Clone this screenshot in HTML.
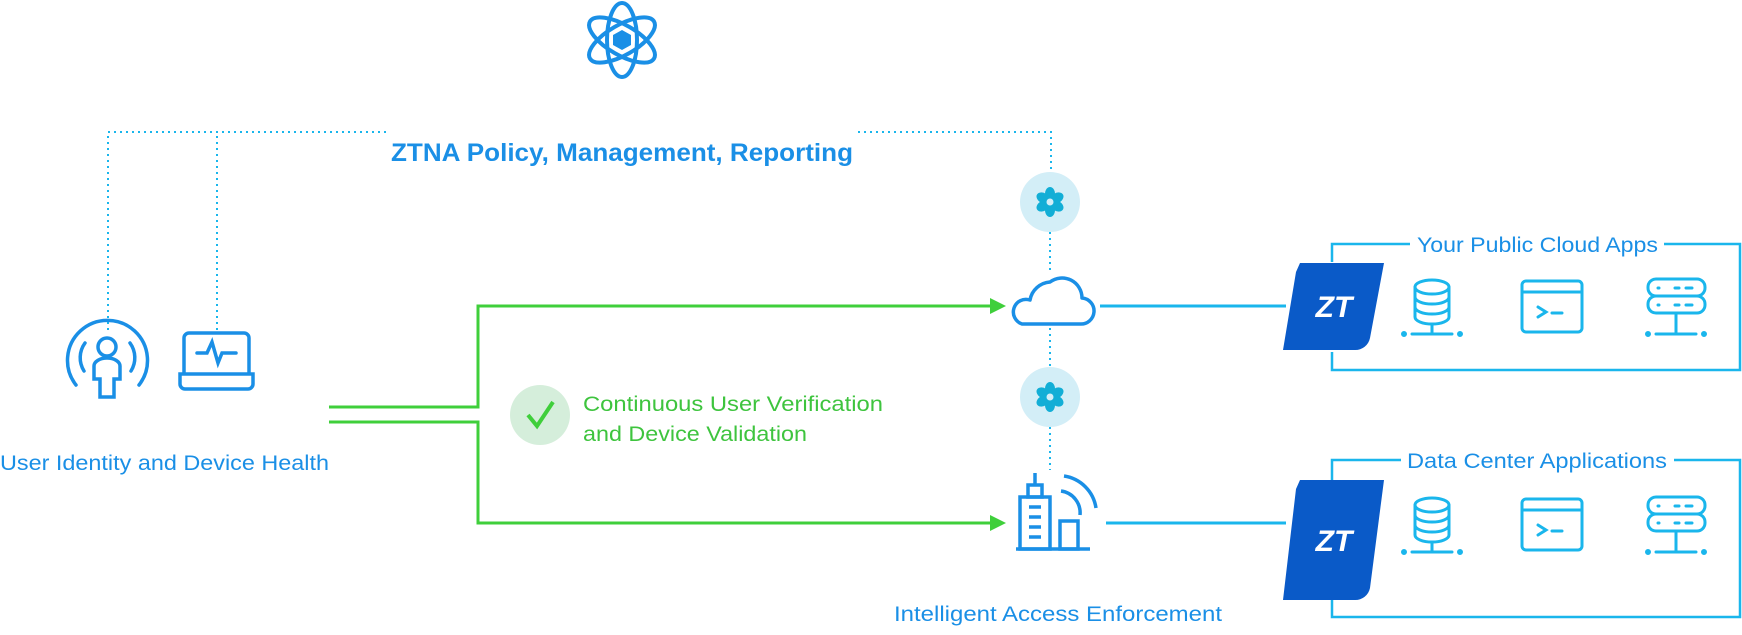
<!DOCTYPE html>
<html><head><meta charset="utf-8"><style>
html,body{margin:0;padding:0;background:#fff;}
body{width:1742px;height:630px;overflow:hidden;position:relative;font-family:"Liberation Sans",sans-serif;}
</style></head><body>
<svg width="1742" height="630" viewBox="0 0 1742 630" xmlns="http://www.w3.org/2000/svg">
<defs>
<g id="gear" fill="#12aed6">
<ellipse cx="0" cy="-8" rx="5" ry="7"/><ellipse cx="0" cy="-8" rx="5" ry="7" transform="rotate(60)"/><ellipse cx="0" cy="-8" rx="5" ry="7" transform="rotate(120)"/>
<ellipse cx="0" cy="-8" rx="5" ry="7" transform="rotate(180)"/><ellipse cx="0" cy="-8" rx="5" ry="7" transform="rotate(240)"/><ellipse cx="0" cy="-8" rx="5" ry="7" transform="rotate(300)"/>
<circle r="8"/><circle r="3.5" fill="#d3eef7"/>
</g>
</defs>
<g fill="none" stroke="#1ab6ec" stroke-width="2" stroke-dasharray="2 4">
<path d="M108 330 V132 H388"/><path d="M217 330 V132"/><path d="M858 132 H1051 V172"/>
<path d="M1050 232 V272"/><path d="M1050 328 V367"/><path d="M1050 427 V470"/>
</g>
<!-- atom -->
<g fill="none" stroke="#1a8fe6" stroke-width="4">
<ellipse cx="622" cy="40" rx="15" ry="37"/>
<ellipse cx="622" cy="40" rx="15" ry="37" transform="rotate(60 622 40)"/>
<ellipse cx="622" cy="40" rx="15" ry="37" transform="rotate(-60 622 40)"/>
</g>
<polygon points="622,30 631,35 631,45 622,50 613,45 613,35" fill="#1a8fe6"/>
<text x="391" y="161" font-size="25" font-weight="bold" fill="#1a8fe6" textLength="462" lengthAdjust="spacingAndGlyphs">ZTNA Policy, Management, Reporting</text>
<!-- gears -->
<circle cx="1050" cy="202" r="30" fill="#d3eef7"/><circle cx="1050" cy="397" r="30" fill="#d3eef7"/>
<use href="#gear" x="1050" y="202"/><use href="#gear" x="1050" y="397"/>
<!-- cloud -->
<path d="M1022 324 H1080 A13 13 0 0 0 1082 298 A20 20 0 0 0 1050 282 A22 22 0 0 0 1030 300 A12 12 0 0 0 1022 324 Z" fill="none" stroke="#1a8fe6" stroke-width="3.5" stroke-linejoin="round"/>
<!-- building -->
<g fill="none" stroke="#1a8fe6" stroke-width="3.5">
<rect x="1020" y="497" width="30" height="52"/><rect x="1028" y="485" width="14" height="12"/><path d="M1035 473 V485"/>
<rect x="1060" y="521" width="18" height="28"/><path d="M1016 549 H1090"/>
<path d="M1029 507 H1041 M1029 517 H1041 M1029 527 H1041 M1029 537 H1041"/>
<path d="M1061 491 A22 22 0 0 1 1080 515"/><path d="M1064 476 A38 38 0 0 1 1096 508"/>
</g>
<!-- green connectors -->
<g fill="none" stroke="#3fcf3b" stroke-width="3">
<path d="M329 407 H478 V306 H992"/><path d="M329 422 H478 V523 H992"/>
</g>
<polygon points="990,298 1006,306 990,314" fill="#3fcf3b"/>
<polygon points="990,515 1006,523 990,531" fill="#3fcf3b"/>
<circle cx="540" cy="415" r="30" fill="#d5eedb"/>
<path d="M528 415 L537 426 L553 402" fill="none" stroke="#3fcf3b" stroke-width="4"/>
<g font-size="21" fill="#3ec43e"><text x="583" y="411" textLength="300" lengthAdjust="spacingAndGlyphs">Continuous User Verification</text><text x="583" y="441" textLength="224" lengthAdjust="spacingAndGlyphs">and Device Validation</text></g>
<!-- left icons -->
<g fill="none" stroke="#1a8fe6" stroke-width="3.5" stroke-linecap="round">
<circle cx="107" cy="347" r="9"/><path d="M100 397 V379 H94 V366 A13 8 0 0 1 120 366 V379 H114 V397 Z"/>
<path d="M76 385 A40 40 0 1 1 139 385"/><path d="M84 371 A25 25 0 0 1 85 343"/><path d="M131 371 A25 25 0 0 0 130 343"/>
<path d="M184 373 V338 A5 5 0 0 1 189 333 H244 A5 5 0 0 1 249 338 V373"/>
<path d="M180 374 H253 V384 A5 5 0 0 1 248 389 H185 A5 5 0 0 1 180 384 Z"/>
<path d="M197 353 H207 L212 342 L218 363 L222 353 L236 353"/>
</g>
<text x="0" y="470" font-size="21" fill="#1a8fe6" textLength="329" lengthAdjust="spacingAndGlyphs">User Identity and Device Health</text>
<text x="894" y="621" font-size="21" fill="#1a8fe6" textLength="328" lengthAdjust="spacingAndGlyphs">Intelligent Access Enforcement</text>
<!-- connectors to ZT -->
<g stroke="#1ab6ec" stroke-width="3"><path d="M1100 306 H1286"/><path d="M1106 523 H1286"/></g>
<!-- boxes -->
<g fill="none" stroke="#1ab6ec" stroke-width="2.5">
<path d="M1332 262 V244 H1410 M1664 244 H1740 V370 H1332 V352"/>
<path d="M1332 480 V460 H1401 M1674 460 H1740 V617 H1332 V598"/>
</g>
<g font-size="21" fill="#1a8fe6"><text x="1417" y="252" textLength="241" lengthAdjust="spacingAndGlyphs">Your Public Cloud Apps</text><text x="1407" y="468" textLength="260" lengthAdjust="spacingAndGlyphs">Data Center Applications</text></g>
<!-- ZT -->
<path d="M1300 263 H1384 L1370 338 A15 15 0 0 1 1355 350 H1283 L1296 272 Z" fill="#0a5ac8"/>
<path d="M1300 480 H1384 L1370 588 A15 15 0 0 1 1355 600 H1283 L1296 489 Z" fill="#0a5ac8"/>
<g font-size="30" fill="#fff" font-weight="bold" font-style="italic" text-anchor="middle"><text x="1334" y="317">ZT</text><text x="1334" y="551">ZT</text></g>
<!-- app icons -->
<defs>
<g id="apps" fill="none" stroke="#1ab6ec" stroke-width="3" stroke-linecap="round">
<ellipse cx="1432" cy="287" rx="17" ry="7"/><path d="M1415 287 V317 A17 7 0 0 0 1449 317 V287 M1415 297 A17 7 0 0 0 1449 297 M1415 307 A17 7 0 0 0 1449 307"/>
<path d="M1432 324 V334 M1412 334 H1452"/><circle cx="1404" cy="334" r="1.5" fill="#1ab6ec"/><circle cx="1460" cy="334" r="1.5" fill="#1ab6ec"/>
<rect x="1522" y="281" width="60" height="51" rx="4"/><path d="M1522 292 H1582 M1538 307 L1546 312 L1538 317 M1552 313 H1562"/>
<rect x="1648" y="279" width="57" height="17" rx="8"/><rect x="1648" y="296" width="57" height="17" rx="8"/>
<path d="M1658 288 h1 M1658 305 h1 M1675 288 h4 M1686 288 h6 M1675 305 h4 M1686 305 h6 M1676 313 V334 M1656 334 H1696"/>
<circle cx="1648" cy="334" r="1.5" fill="#1ab6ec"/><circle cx="1704" cy="334" r="1.5" fill="#1ab6ec"/>
</g>
</defs>
<use href="#apps"/><use href="#apps" y="218"/>
</svg>
</body></html>
